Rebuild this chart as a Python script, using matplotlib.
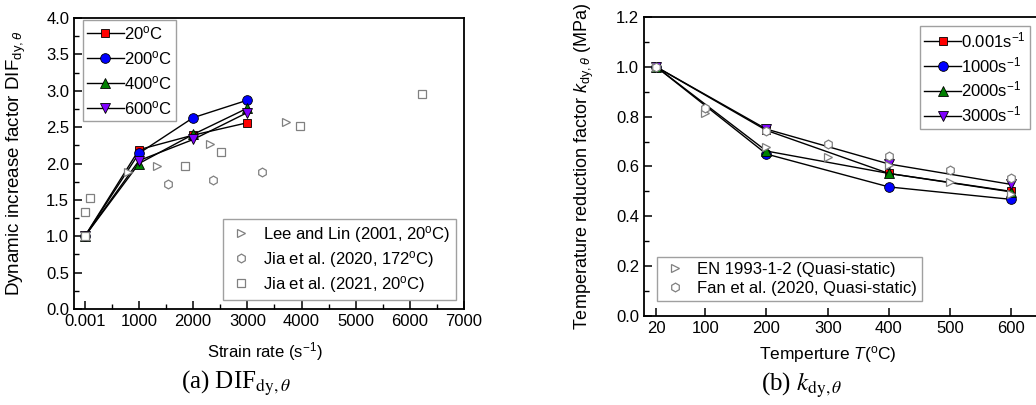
import matplotlib
matplotlib.use("Agg")
import matplotlib.pyplot as plt
from matplotlib.ticker import MultipleLocator, FormatStrFormatter

plt.rcParams['font.family'] = ['Liberation Sans', 'DejaVu Sans']
plt.rcParams['mathtext.fontset'] = 'custom'
plt.rcParams['mathtext.rm'] = 'Liberation Sans'
plt.rcParams['mathtext.it'] = 'Liberation Sans:italic'
plt.rcParams['mathtext.bf'] = 'Liberation Sans:bold'
plt.rcParams['font.size'] = 11.5

# (a) DIF vs strain rate
rates = [0.001, 1000, 2000, 3000]
dif_20 = [1.0, 2.19, 2.39, 2.56]
dif_200 = [1.0, 2.14, 2.63, 2.87]
dif_400 = [1.0, 2.00, 2.40, 2.76]
dif_600 = [1.0, 2.04, 2.33, 2.70]

lee_x = [802, 1327, 2315, 3722]
lee_y = [1.89, 1.97, 2.27, 2.57]
jia20_x = [1543, 2364, 3265]
jia20_y = [1.72, 1.77, 1.88]
jia21_x = [0.001, 0.001, 93, 1852, 2506, 3981, 6222]
jia21_y = [1.0, 1.34, 1.53, 1.97, 2.16, 2.52, 2.95]

rate_ticks = [0, 1000, 2000, 3000, 4000, 5000, 6000, 7000]
rate_labels = ['0.001', '1000', '2000', '3000', '4000', '5000', '6000', '7000']

# (b) k vs temperature
temps = [20, 200, 400, 600]
k_0001 = [1.0, 0.745, 0.572, 0.50]
k_1000 = [1.0, 0.650, 0.518, 0.468]
k_2000 = [1.0, 0.662, 0.572, 0.498]
k_3000 = [1.0, 0.750, 0.610, 0.528]

ref_temps = [20, 100, 200, 300, 400, 500, 600]
en_k = [1.0, 0.816, 0.68, 0.64, 0.605, 0.537, 0.49]
fan_k = [1.0, 0.836, 0.742, 0.689, 0.644, 0.587, 0.552]

temp_ticks = [20, 100, 200, 300, 400, 500, 600]

grey = '#808080'
cols = ['#ff0000', '#0000ff', '#008000', '#8000ff']
mks = ['s', 'o', '^', 'v']
msz = [6, 7, 7, 7]

fig = plt.figure(figsize=(10.36, 4.05), dpi=100)
ax1 = fig.add_axes([74 / 1036, 1 - 309 / 405, 390 / 1036, 291 / 405])
ax2 = fig.add_axes([644 / 1036, 1 - 316 / 405, 398 / 1036, 299 / 405])


def style(ax):
    for s in ax.spines.values():
        s.set_linewidth(1.3)
    ax.tick_params(which='both', direction='in', top=False, right=False, labelsize=12)
    ax.tick_params(which='major', length=6, width=1.1)
    ax.tick_params(which='minor', length=3.5, width=1.0)


# ---- panel a
ser_a = [dif_20, dif_200, dif_400, dif_600]
lab_a = ['20$^{\\rm o}$C', '200$^{\\rm o}$C', '400$^{\\rm o}$C', '600$^{\\rm o}$C']
hs = []
for ys, c, m, ms, lb in zip(ser_a, cols, mks, msz, lab_a):
    h, = ax1.plot(rates, ys, color='black', lw=1.0, marker=m, ms=ms,
                  mfc=c, mec='black', mew=0.6, label=lb, zorder=2)
    hs.append(h)

oa = dict(ls='none', mfc='white', mec=grey, mew=0.9, ms=6.3, zorder=3)
r1, = ax1.plot(lee_x, lee_y, marker='>', label='Lee and Lin (2001, 20$^{\\rm o}$C)', **oa)
r2, = ax1.plot(jia20_x, jia20_y, marker='h', label='Jia et al. (2020, 172$^{\\rm o}$C)', **oa)
r3, = ax1.plot(jia21_x, jia21_y, marker='s', label='Jia et al. (2021, 20$^{\\rm o}$C)', **oa)

ax1.set_xlim(-200, 7000)
ax1.set_ylim(0, 4.0)
ax1.set_xticks(rate_ticks)
ax1.set_xticklabels(rate_labels)
ax1.xaxis.set_minor_locator(MultipleLocator(500))
ax1.yaxis.set_major_locator(MultipleLocator(0.5))
ax1.yaxis.set_minor_locator(MultipleLocator(0.25))
ax1.yaxis.set_major_formatter(FormatStrFormatter('%.1f'))
style(ax1)
ax1.set_xlabel('Strain rate (s$^{-1}$)', fontsize=12)
ax1.xaxis.set_label_coords(0.49, -0.108)
ax1.set_ylabel('Dynamic increase factor DIF$_{\\mathrm{dy},\\theta}$', fontsize=13.5)
ax1.yaxis.set_label_coords(-0.118, 0.5)

leg_kw = dict(frameon=True, fancybox=False, framealpha=1, edgecolor='#a0a0a0',
              borderaxespad=0, fontsize=12)
l1 = ax1.legend(handles=hs, loc='upper left', bbox_to_anchor=(0.023, 0.993),
                handlelength=2.2, handletextpad=0.0, labelspacing=0.42, borderpad=0.25, **leg_kw)
l1.get_frame().set_linewidth(1.0)
ax1.add_artist(l1)
l2 = ax1.legend(handles=[r1, r2, r3], loc='lower right', bbox_to_anchor=(0.979, 0.031),
                handlelength=1.5, handletextpad=0.6, labelspacing=0.25, borderpad=0.3, **leg_kw)
l2.get_frame().set_linewidth(1.0)

# ---- panel b
ser_b = [k_0001, k_1000, k_2000, k_3000]
lab_b = ['0.001s$^{-1}$', '1000s$^{-1}$', '2000s$^{-1}$', '3000s$^{-1}$']
hb = []
for ys, c, m, ms, lb in zip(ser_b, cols, mks, msz, lab_b):
    h, = ax2.plot(temps, ys, color='black', lw=1.0, marker=m, ms=ms,
                  mfc=c, mec='black', mew=0.6, label=lb, zorder=2)
    hb.append(h)

e1, = ax2.plot(ref_temps, en_k, marker='>', label='EN 1993-1-2 (Quasi-static)', **oa)
e2, = ax2.plot(ref_temps, fan_k, marker='h', label='Fan et al. (2020, Quasi-static)', **oa)

ax2.set_xlim(0, 650)
ax2.set_ylim(0, 1.2)
ax2.set_xticks(temp_ticks)
ax2.yaxis.set_major_locator(MultipleLocator(0.2))
ax2.yaxis.set_minor_locator(MultipleLocator(0.1))
ax2.yaxis.set_major_formatter(FormatStrFormatter('%.1f'))
style(ax2)
ax2.set_xlabel('Temperture $T$($^{\\rm o}$C)', fontsize=12.5)
ax2.xaxis.set_label_coords(0.462, -0.094)
ax2.set_ylabel('Temperature reduction factor $k_{\\mathrm{dy},\\theta}$ (MPa)', fontsize=13)
ax2.yaxis.set_label_coords(-0.12, 0.5)

l3 = ax2.legend(handles=hb, loc='upper right', bbox_to_anchor=(0.970, 0.970),
                handlelength=2.2, handletextpad=0.0, labelspacing=0.3, borderpad=0.25, **leg_kw)
l3.get_frame().set_linewidth(1.0)
ax2.add_artist(l3)
l4 = ax2.legend(handles=[e1, e2], loc='lower left', bbox_to_anchor=(0.033, 0.05),
                handlelength=1.5, handletextpad=0.6, labelspacing=0.25, borderpad=0.3, **leg_kw)
l4.get_frame().set_linewidth(1.0)

# captions
fig.text(236 / 1036, 1 - 383 / 405, '(a) DIF$_{\\mathrm{dy},\\theta}$', ha='center', va='center',
         fontsize=18, family='Liberation Serif', math_fontfamily='stix')
fig.text(802 / 1036, 1 - 385 / 405, '(b) $k_{\\mathrm{dy},\\theta}$', ha='center', va='center',
         fontsize=18, family='Liberation Serif', math_fontfamily='stix')

fig.savefig('out.png', dpi=100)
